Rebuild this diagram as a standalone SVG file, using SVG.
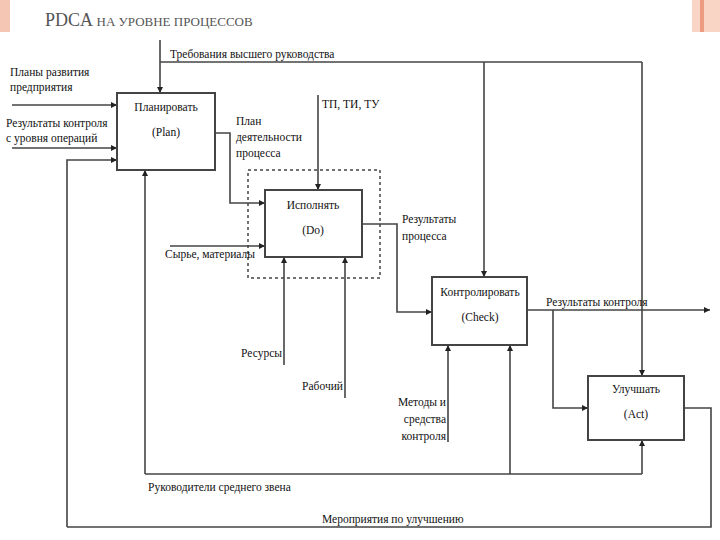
<svg xmlns="http://www.w3.org/2000/svg" width="720" height="540" viewBox="0 0 720 540" font-family="Liberation Serif, DejaVu Serif, serif">
<defs>
<marker id="a" viewBox="0 0 8 8" refX="8" refY="4" markerWidth="6" markerHeight="6" orient="auto" markerUnits="userSpaceOnUse"><path d="M0,0 L8,4 L0,8 z" fill="#222"/></marker>
<style>
text{font-family:'Liberation Serif',serif;font-size:11.5px;fill:#111}
.c{text-anchor:middle}
.box{fill:#fff;stroke:#444;stroke-width:2}
.ln{fill:none;stroke:#444;stroke-width:1.6}
.ar{fill:none;stroke:#444;stroke-width:1.6;marker-end:url(#a)}
</style>
</defs>
<rect width="720" height="540" fill="#fff"/>
<rect x="0" y="0" width="10" height="32" fill="#f6c6b4"/>
<rect x="692" y="0" width="28" height="32" fill="#f9d5c6"/>
<rect x="700" y="0" width="4" height="32" fill="#ec9c80"/>
<text x="45" y="26" style="font-size:18px;fill:#555">PDCA <tspan style="font-size:13px">НА УРОВНЕ ПРОЦЕССОВ</tspan></text>

<g id="connectors">
<path class="ar" d="M160,40 V93"/>
<path class="ln" d="M160,62 H642"/>
<path class="ar" d="M484,62 V277"/>
<path class="ar" d="M642,62 V376"/>
<path class="ar" d="M12,105 H117"/>
<path class="ar" d="M12,148 H117"/>
<path class="ar" d="M67,527 V160 H117"/>
<path class="ln" d="M67,527 H711 V408 H684"/>
<path class="ar" d="M145,474 V170"/>
<path class="ln" d="M145,474 H642"/>
<path class="ar" d="M642,474 V440"/>
<path class="ar" d="M510,474 V345"/>
<path class="ar" d="M215,133 H230 V203 H265"/>
<path class="ar" d="M318,95 V190"/>
<path class="ar" d="M170,246 H265"/>
<path class="ar" d="M284,365 V257"/>
<path class="ar" d="M345,398 V257"/>
<path class="ar" d="M362,224 H397 V312 H432"/>
<path class="ar" d="M448,442 V345"/>
<path class="ar" d="M527,310 H710"/>
<path class="ar" d="M553,310 V408 H588"/>
<rect x="248" y="170" width="132" height="108" fill="none" stroke="#444" stroke-width="1.5" stroke-dasharray="3,3"/>
</g>

<g id="plan"><rect class="box" x="117" y="93" width="98" height="77"/><text class="c" x="166" y="111">Планировать</text><text class="c" x="166" y="136">(Plan)</text></g>
<g id="do"><rect class="box" x="265" y="190" width="97" height="67"/><text class="c" x="313" y="209">Исполнять</text><text class="c" x="313" y="234">(Do)</text></g>
<g id="check"><rect class="box" x="432" y="277" width="95" height="68"/><text class="c" x="480" y="296">Контролировать</text><text class="c" x="480" y="321">(Check)</text></g>
<g id="act"><rect class="box" x="588" y="376" width="96" height="64"/><text class="c" x="636" y="393">Улучшать</text><text class="c" x="636" y="418">(Act)</text></g>

<g id="labels">
<text x="170" y="58">Требования высшего руководства</text>
<text x="10" y="76">Планы развития</text><text x="10" y="91">предприятия</text>
<text x="6" y="127">Результаты контроля</text><text x="6" y="142">с уровня операций</text>
<text x="236" y="125">План</text><text x="236" y="141">деятельности</text><text x="236" y="157">процесса</text>
<text x="322" y="108">ТП, ТИ, ТУ</text>
<text x="165" y="258">Сырье, материалы</text>
<text x="402" y="223">Результаты</text><text x="402" y="240">процесса</text>
<text x="282" y="357" text-anchor="end">Ресурсы</text>
<text x="343" y="390" text-anchor="end">Рабочий</text>
<text x="446" y="406" text-anchor="end">Методы и</text><text x="446" y="423" text-anchor="end">средства</text><text x="446" y="440" text-anchor="end">контроля</text>
<text x="546" y="306">Результаты контроля</text>
<text x="148" y="491">Руководители среднего звена</text>
<text x="322" y="523">Мероприятия по улучшению</text>
</g>
</svg>
